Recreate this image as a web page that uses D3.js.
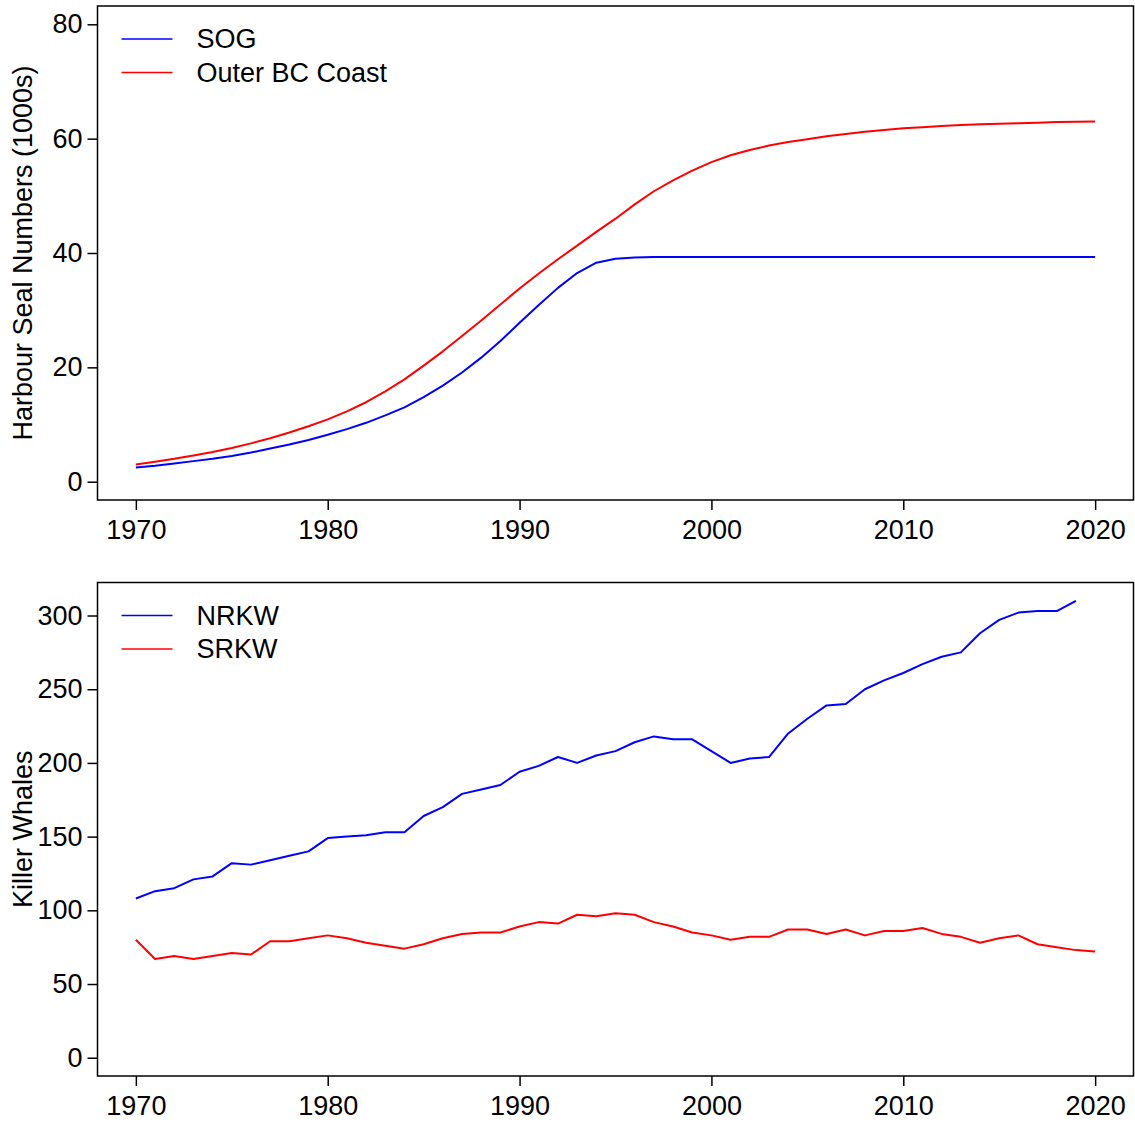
<!DOCTYPE html>
<html>
<head>
<meta charset="utf-8">
<script src="https://cdn.jsdelivr.net/npm/d3@7"></script>
<style>
  html, body { margin: 0; padding: 0; background: #fff; }
  svg text { font-family: "Liberation Sans", Arial, Helvetica, sans-serif; fill: #000; }
</style>
</head>
<body>
<svg id="chart" width="1135" height="1124"></svg>
<script>
// ---------- data ----------
const years = [1970,1971,1972,1973,1974,1975,1976,1977,1978,1979,
               1980,1981,1982,1983,1984,1985,1986,1987,1988,1989,
               1990,1991,1992,1993,1994,1995,1996,1997,1998,1999,
               2000,2001,2002,2003,2004,2005,2006,2007,2008,2009,
               2010,2011,2012,2013,2014,2015,2016,2017,2018,2019,2020];

// Harbour seals (1000s)
const sog = [2.5,2.8,3.2,3.6,4.0,4.5,5.1,5.8,6.5,7.3,
             8.2,9.2,10.3,11.6,13.0,14.8,16.8,19.1,21.7,24.6,
             27.8,30.9,33.9,36.5,38.3,39.0,39.2,39.3,39.3,39.3,
             39.3,39.3,39.3,39.3,39.3,39.3,39.3,39.3,39.3,39.3,
             39.3,39.3,39.3,39.3,39.3,39.3,39.3,39.3,39.3,39.3,39.3];
const outerBC = [3.0,3.5,4.0,4.6,5.2,5.9,6.7,7.6,8.6,9.7,
                 10.9,12.3,13.9,15.8,17.9,20.3,22.8,25.5,28.2,31.0,
                 33.8,36.4,38.9,41.3,43.7,46.0,48.5,50.8,52.7,54.4,
                 55.9,57.1,58.0,58.8,59.4,59.9,60.4,60.8,61.2,61.5,
                 61.8,62.0,62.2,62.4,62.5,62.6,62.7,62.8,62.9,62.95,63.0];

// Killer whales (individuals)
const nrkwYears = years.slice(0, 50);
const nrkw = [108,113,115,121,123,132,131,134,137,140,
              149,150,151,153,153,164,170,179,182,185,
              194,198,204,200,205,208,214,218,216,216,
              208,200,203,204,220,230,239,240,250,256,
              261,267,272,275,288,297,302,303,303,310];
const srkw = [80,67,69,67,69,71,70,79,79,81,
              83,81,78,76,74,77,81,84,85,85,
              89,92,91,97,96,98,97,92,89,85,
              83,80,82,82,87,87,84,87,83,86,
              86,88,84,82,78,81,83,77,75,73,72];

const xTicks = [1970,1980,1990,2000,2010,2020];
const sealTicks = [0,20,40,60,80];
const whaleTicks = [0,50,100,150,200,250,300];

const sealSeries = [
  {name: "SOG", color: "#0000ff", x: years, y: sog},
  {name: "Outer BC Coast", color: "#ff0000", x: years, y: outerBC}
];
const whaleSeries = [
  {name: "NRKW", color: "#0000ff", x: nrkwYears, y: nrkw},
  {name: "SRKW", color: "#ff0000", x: years, y: srkw}
];

// ---------- drawing ----------
const svg = d3.select("#chart");
const FONT = 27;

function panel(opts) {
  const {left, right, top, bottom, xlim, ylim, yTicks, series, ylabel} = opts;
  const ext = (lim) => { const d = (lim[1]-lim[0])*0.04; return [lim[0]-d, lim[1]+d]; };
  const x = d3.scaleLinear().domain(ext(xlim)).range([left, right]);
  const y = d3.scaleLinear().domain(ext(ylim)).range([bottom, top]);
  const g = svg.append("g");

  // data lines
  const line = d3.line().x(d => x(d[0])).y(d => y(d[1]));
  series.forEach(s => {
    const pts = s.x.map((v, i) => [v, s.y[i]]);
    g.append("path").attr("d", line(pts))
      .attr("fill", "none").attr("stroke", s.color)
      .attr("stroke-width", 2).attr("stroke-linejoin", "round");
  });

  // box
  g.append("rect").attr("x", left).attr("y", top)
    .attr("width", right-left).attr("height", bottom-top)
    .attr("fill", "none").attr("stroke", "#000").attr("stroke-width", 1.5);

  // x axis
  const xa = g.append("g").attr("transform", `translate(0,${bottom})`)
    .call(d3.axisBottom(x).tickValues(xTicks).tickFormat(d3.format("d"))
          .tickSizeInner(10).tickSizeOuter(0).tickPadding(10));
  xa.select(".domain").remove();
  xa.selectAll("line").attr("stroke-width", 1.5);
  xa.selectAll("text").attr("font-size", FONT).style("font-family", '"Liberation Sans", Arial, sans-serif');

  // y axis
  const ya = g.append("g").attr("transform", `translate(${left},0)`)
    .call(d3.axisLeft(y).tickValues(yTicks).tickFormat(d3.format("d"))
          .tickSizeInner(10).tickSizeOuter(0).tickPadding(5));
  ya.select(".domain").remove();
  ya.selectAll("line").attr("stroke-width", 1.5);
  ya.selectAll("text").attr("font-size", FONT).style("font-family", '"Liberation Sans", Arial, sans-serif');

  // y label
  g.append("text")
    .attr("transform", `translate(32,${(top+bottom)/2}) rotate(-90)`)
    .attr("text-anchor", "middle").attr("font-size", FONT)
    .text(ylabel);

  // legend
  series.forEach((s, i) => {
    const ly = top + 33 + i*33.5;
    g.append("line").attr("x1", left+24).attr("x2", left+75)
      .attr("y1", ly).attr("y2", ly)
      .attr("stroke", s.color).attr("stroke-width", 1.5);
    g.append("text").attr("x", left+99).attr("y", ly)
      .attr("dy", "0.35em").attr("font-size", FONT).text(s.name);
  });
}

panel({left: 97.5, right: 1133.5, top: 6, bottom: 500,
       xlim: [1970, 2020], ylim: [0, 80], yTicks: sealTicks,
       series: sealSeries, ylabel: "Harbour Seal Numbers (1000s)"});

panel({left: 97.5, right: 1133.5, top: 582.5, bottom: 1076,
       xlim: [1970, 2020], ylim: [0, 310], yTicks: whaleTicks,
       series: whaleSeries, ylabel: "Killer Whales"});
</script>
</body>
</html>
